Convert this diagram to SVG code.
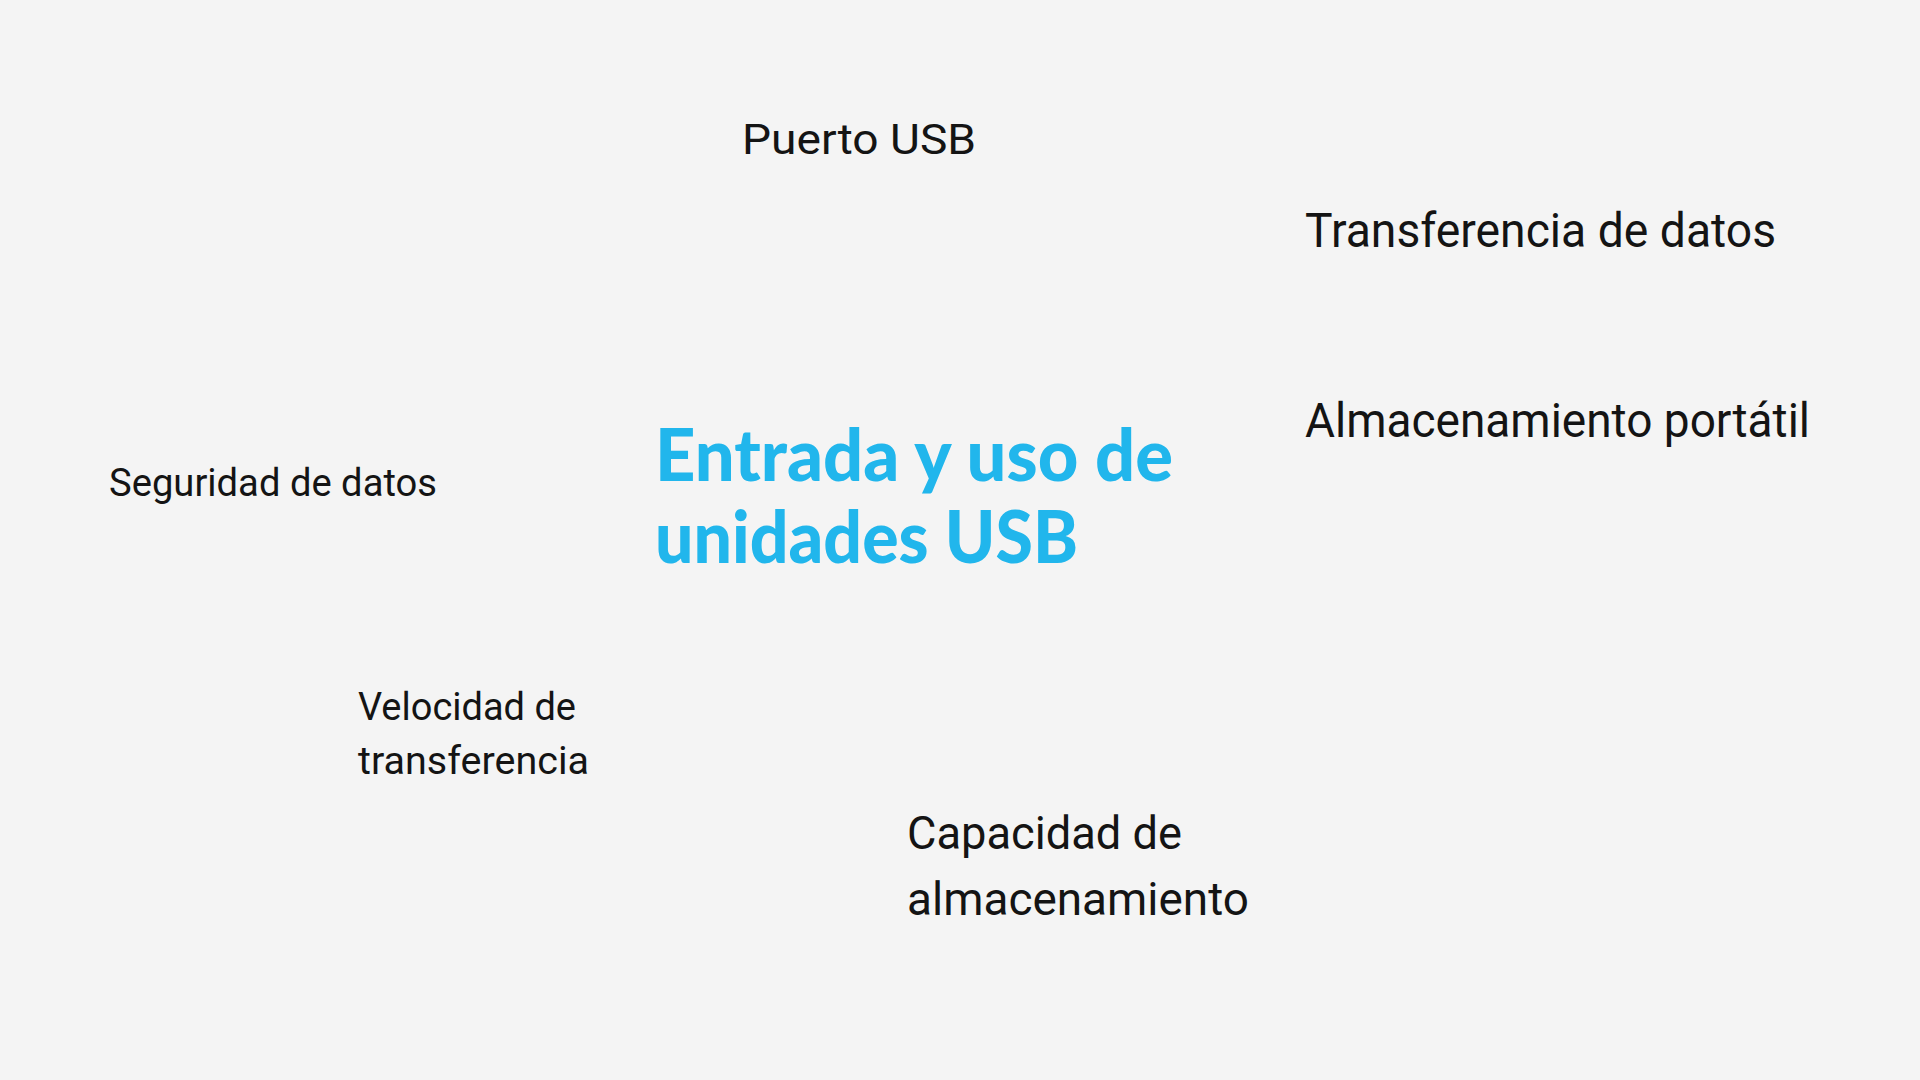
<svg xmlns="http://www.w3.org/2000/svg" width="1920" height="1080" viewBox="0 0 1920 1080">
<style>
.lbl{font-family:Roboto,"Liberation Sans",sans-serif;fill:#141414;font-weight:400}
.title{font-family:Lato,"Liberation Sans",sans-serif;font-weight:900;fill:#21b6ec;font-size:73px}
</style>
<rect x="0" y="0" width="1920" height="1080" fill="#f4f4f4"/>
<g id="connectors"/>
<g id="node-center">
<text class="title" x="655" y="481" textLength="518" lengthAdjust="spacingAndGlyphs">Entrada y uso de</text>
<text class="title" x="655" y="563" textLength="423" lengthAdjust="spacingAndGlyphs">unidades USB</text>
</g>
<g id="node-puerto">
<text class="lbl" x="742" y="154" font-size="43" textLength="234" lengthAdjust="spacingAndGlyphs">Puerto USB</text>
</g>
<g id="node-transferencia">
<text class="lbl" x="1305" y="247" font-size="48" textLength="471" lengthAdjust="spacingAndGlyphs">Transferencia de datos</text>
</g>
<g id="node-almacenamiento">
<text class="lbl" x="1305" y="437" font-size="48" textLength="505" lengthAdjust="spacingAndGlyphs">Almacenamiento portátil</text>
</g>
<g id="node-seguridad">
<text class="lbl" x="109" y="496" font-size="39" textLength="328" lengthAdjust="spacingAndGlyphs">Seguridad de datos</text>
</g>
<g id="node-velocidad">
<text class="lbl" x="358" y="720" font-size="39" textLength="218" lengthAdjust="spacingAndGlyphs">Velocidad de</text>
<text class="lbl" x="358" y="774" font-size="39" textLength="231" lengthAdjust="spacingAndGlyphs">transferencia</text>
</g>
<g id="node-capacidad">
<text class="lbl" x="907" y="849" font-size="47" textLength="275" lengthAdjust="spacingAndGlyphs">Capacidad de</text>
<text class="lbl" x="907" y="915" font-size="47" textLength="342" lengthAdjust="spacingAndGlyphs">almacenamiento</text>
</g>
</svg>
